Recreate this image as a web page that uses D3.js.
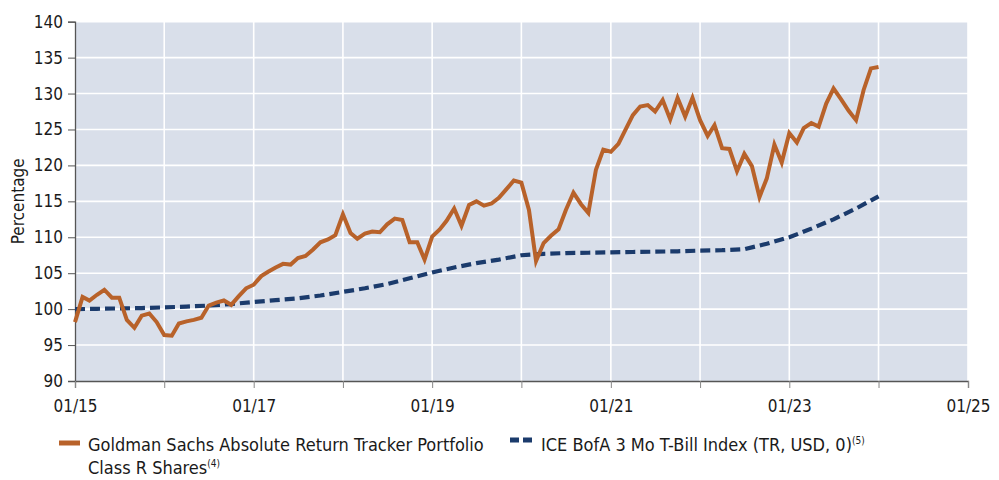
<!DOCTYPE html>
<html><head><meta charset="utf-8">
<script src="https://cdn.jsdelivr.net/npm/d3@7"></script>
<style>
body{margin:0;background:#fff}
text{font-family:"Liberation Sans Narrow","DejaVu Sans Condensed",sans-serif;fill:#1a1a1a}
</style>
</head><body><svg id="c" width="999" height="480"></svg>
<script>
// ---- data ----
const fundStart = "2015-01";
const fundValues = [
 98.2,101.7,101.2,102.0,102.7,101.6,101.6,98.5,97.4,99.1,99.4,98.2,
 96.4,96.3,98.0,98.3,98.5,98.8,100.5,100.9,101.2,100.6,101.8,102.9,
 103.4,104.6,105.2,105.8,106.3,106.2,107.1,107.4,108.3,109.3,109.7,110.3,
 113.2,110.6,109.8,110.5,110.8,110.7,111.8,112.6,112.4,109.3,109.3,106.9,
 110.1,111.1,112.3,114.0,111.6,114.5,115.0,114.4,114.7,115.5,116.7,117.9,
 117.6,113.8,106.7,109.2,110.2,111.1,113.8,116.2,114.6,113.4,119.4,122.2,
 121.9,123.0,124.9,127.0,128.2,128.4,127.5,129.1,126.4,129.4,126.8,129.4,
 126.3,124.1,125.6,122.4,122.3,119.2,121.6,119.9,115.6,118.2,122.9,120.4,
 124.5,123.2,125.2,125.9,125.4,128.6,130.7,129.2,127.6,126.3,130.5,133.5,
 133.7
];
const tbillDates = [
 "2015-01","2015-04","2015-07","2015-10","2016-01","2016-04","2016-07","2016-10",
 "2017-01","2017-04","2017-07","2017-10","2018-01","2018-04","2018-07","2018-10",
 "2019-01","2019-04","2019-07","2019-10","2020-01","2020-04","2020-07","2020-10",
 "2021-01","2021-04","2021-07","2021-10","2022-01","2022-04","2022-07","2022-10",
 "2023-01","2023-04","2023-07","2023-10","2024-01"
];
const tbillValues = [
 100.0,100.05,100.1,100.15,100.25,100.35,100.5,100.7,
 101.0,101.25,101.5,101.9,102.4,102.9,103.5,104.3,
 105.1,105.8,106.4,106.9,107.5,107.7,107.8,107.85,
 107.9,107.95,108.0,108.05,108.15,108.2,108.35,109.1,
 110.0,111.2,112.5,114.0,115.7
];
const yTicks = [90,95,100,105,110,115,120,125,130,135,140];
const xDomain = ["2015-01","2025-01"];
const seriesNames = ["Goldman Sachs Absolute Return Tracker Portfolio","ICE BofA 3 Mo T-Bill Index (TR, USD, 0)"];
const yTitle = "Percentage";

// ---- chart ----
const parse = d3.timeParse("%Y-%m");
const start = parse(fundStart);
const fund = fundValues.map((v,i)=>({d:d3.timeMonth.offset(start,i),v}));
const tbill = tbillDates.map((s,i)=>({d:parse(s),v:tbillValues[i]}));

const L=75,R=968,T=21.7,B=381;
const svg=d3.select("#c");
const x=d3.scaleTime().domain(xDomain.map(parse)).range([L,R]);
const y=d3.scaleLinear().domain([90,140]).range([B,T]);
const orange="#b8622a", navy="#1b3b6c", bg="#d9dfea";

svg.append("rect").attr("x",L).attr("y",T).attr("width",R-L).attr("height",B-T).attr("fill",bg);
const years=d3.timeYear.range(parse("2016-01"),d3.timeMonth.offset(parse("2025-01"),1));
svg.append("g").selectAll("line").data(years).join("line")
 .attr("x1",d=>x(d)).attr("x2",d=>x(d)).attr("y1",T).attr("y2",B)
 .attr("stroke","#fff").attr("stroke-width",1.6);
svg.append("g").selectAll("line").data(yTicks.slice(1)).join("line")
 .attr("x1",L).attr("x2",R).attr("y1",d=>y(d)).attr("y2",d=>y(d))
 .attr("stroke","#fff").attr("stroke-width",1.6);

// axes
const ya=svg.append("g").attr("transform",`translate(${L},0)`)
 .call(d3.axisLeft(y).tickValues(yTicks).tickSize(7).tickPadding(5).tickFormat(d3.format("d")));
ya.select(".domain").attr("stroke","#555").attr("stroke-width",1.3);
ya.selectAll(".tick line").attr("stroke","#555");
ya.selectAll("text").style("font-size","17px").attr("fill","#1a1a1a");

const xa=svg.append("g").attr("transform",`translate(0,${B})`)
 .call(d3.axisBottom(x).ticks(d3.timeYear.every(1)).tickSize(7).tickPadding(12)
   .tickFormat(d=>d.getFullYear()%2===1?d3.timeFormat("%m/%y")(d):""));
xa.select(".domain").attr("stroke","#555").attr("stroke-width",1.3);
xa.selectAll(".tick line").attr("stroke","#888");
xa.selectAll("text").style("font-size","17px").attr("fill","#1a1a1a");

svg.append("text").attr("transform",`translate(24,${(T+B)/2}) rotate(-90)`)
 .attr("text-anchor","middle").style("font-size","17px").text(yTitle);

// lines
const line=d3.line().x(d=>x(d.d)).y(d=>y(d.v));
svg.append("path").datum(tbill).attr("d",line).attr("fill","none")
 .attr("stroke",navy).attr("stroke-width",4.2).attr("stroke-dasharray","10,5");
svg.append("path").datum(fund).attr("d",line).attr("fill","none")
 .attr("stroke",orange).attr("stroke-width",4).attr("stroke-linejoin","miter");

// legend
const lg=svg.append("g");
lg.append("line").attr("x1",59).attr("x2",80).attr("y1",443).attr("y2",443).attr("stroke",orange).attr("stroke-width",5);
const t1=lg.append("text").attr("x",88).attr("y",451).style("font-size","18px");
t1.text(seriesNames[0]);
const t2=lg.append("text").attr("x",88).attr("y",474).style("font-size","18px");
t2.append("tspan").text("Class R Shares");
t2.append("tspan").attr("dy",-7).style("font-size","10px").text("(4)");
lg.append("line").attr("x1",510).attr("x2",532).attr("y1",440).attr("y2",440).attr("stroke",navy).attr("stroke-width",5).attr("stroke-dasharray","9,4");
const t3=lg.append("text").attr("x",541).attr("y",451).style("font-size","18px");
t3.append("tspan").text(seriesNames[1]);
t3.append("tspan").attr("dy",-7).style("font-size","10px").text("(5)");
</script></body></html>
